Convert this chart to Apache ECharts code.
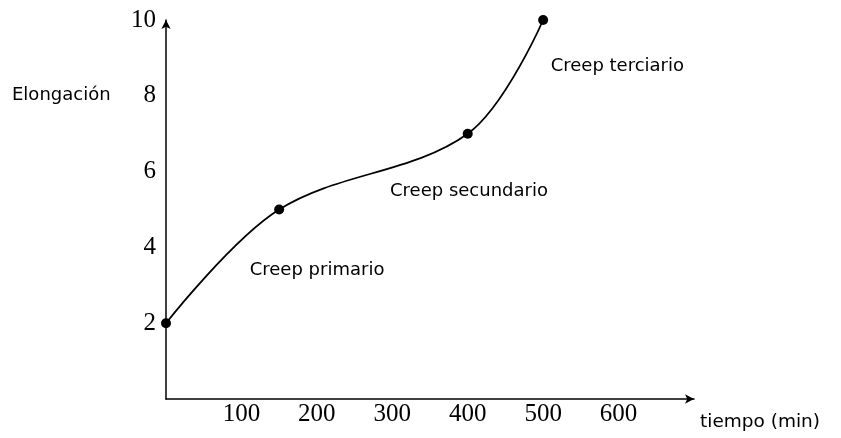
<!DOCTYPE html>
<html>
<head>
<meta charset="utf-8">
<script src="https://cdn.jsdelivr.net/npm/echarts@6/dist/echarts.min.js"></script>
<style>
  html, body { margin: 0; padding: 0; background: #fff; }
  #chart { width: 841px; height: 438px; }
</style>
</head>
<body>
<div id="chart"></div>
<script>
// creep curve points (tiempo in min, elongación)
const tiempo = [0, 150, 400, 500]
const elongacion = [2, 5, 7, 10]

// stage labels: [x, y, text]
const etapas = [
    [111, 3.4, 'Creep primario'],
    [297, 5.47, 'Creep secundario'],
    [510, 8.77, 'Creep terciario']
]

const xTicks = [100, 200, 300, 400, 500, 600]
const yTicks = [2, 4, 6, 8, 10]

const chart = echarts.init(document.getElementById('chart'))

const serif = 'Liberation Serif'
const sans = 'DejaVu Sans'

const option = {
    animation: false,
    grid: { left: 166, right: 147, top: 20, bottom: 39 },
    xAxis: {
        type: 'value',
        min: 0,
        max: 700,
        interval: 100,
        splitLine: { show: false },
        axisTick: { show: false },
        axisLine: {
            lineStyle: { color: '#000', width: 1.5 },
            symbol: ['none', 'arrow'],
            symbolSize: [7, 9]
        },
        axisLabel: {
            color: '#000',
            fontFamily: serif,
            fontSize: 25,
            margin: 3,
            formatter: v => xTicks.includes(v) ? String(v) : ''
        }
    },
    yAxis: {
        type: 'value',
        min: 0,
        max: 10,
        interval: 2,
        splitLine: { show: false },
        axisTick: { show: false },
        axisLine: {
            lineStyle: { color: '#000', width: 1.5 },
            symbol: ['none', 'arrow'],
            symbolSize: [7, 9]
        },
        axisLabel: {
            color: '#000',
            fontFamily: serif,
            fontSize: 25,
            margin: 10,
            formatter: v => yTicks.includes(v) ? String(v) : ''
        }
    },
    graphic: [
        {
            type: 'text', left: 12, top: 86,
            style: { text: 'Elongación', fill: '#000', font: '18px "DejaVu Sans"' }
        },
        {
            type: 'text', left: 700, top: 413,
            style: { text: 'tiempo (min)', fill: '#000', font: '18.5px "DejaVu Sans"' }
        }
    ],
    series: [
        {
            type: 'line',
            data: tiempo.map((t, i) => [t, elongacion[i]]),
            smooth: 0.35,
            symbol: 'circle',
            symbolSize: 10,
            lineStyle: { color: '#000', width: 1.8 },
            itemStyle: { color: '#000' },
            z: 3
        },
        {
            type: 'scatter',
            data: etapas.map(e => ({ value: [e[0], e[1]], name: e[2] })),
            symbolSize: 0,
            silent: true,
            label: {
                show: true,
                position: 'right',
                distance: 0,
                formatter: p => p.name,
                color: '#000',
                opacity: 1,
                fontFamily: sans,
                fontSize: 18
            }
        }
    ]
}

chart.setOption(option)
window.addEventListener('resize', () => chart.resize())
</script>
</body>
</html>
